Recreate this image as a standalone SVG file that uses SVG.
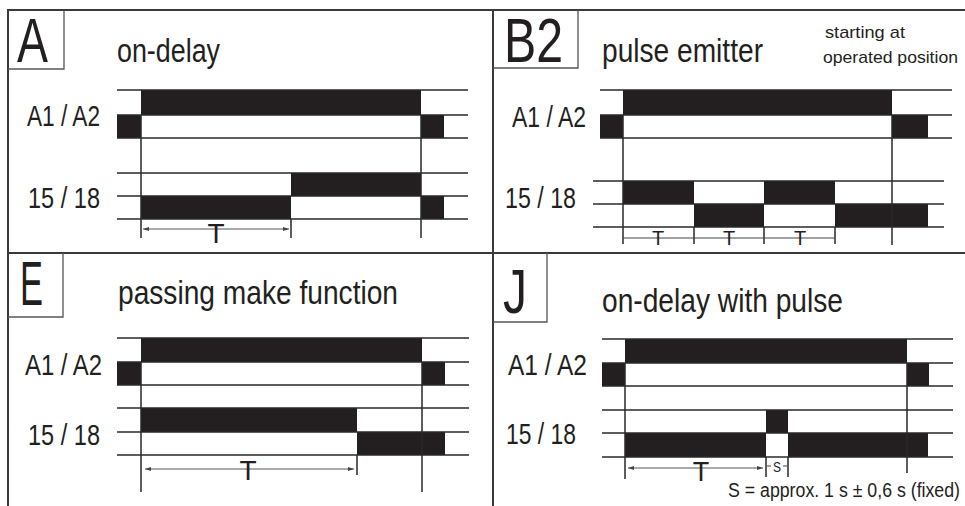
<svg xmlns="http://www.w3.org/2000/svg" width="965" height="506" viewBox="0 0 965 506">
<style>
.frame{stroke:#3a3a3a;stroke-width:2;fill:none}
.box{stroke:#555;stroke-width:1.3;fill:none}
.sig{stroke:#2a2a2a;stroke-width:1.4}
.bar{fill:#231f20}
.vl{stroke:#2a2a2a;stroke-width:1.5}
.dim{stroke:#555;stroke-width:1;marker-start:url(#arr);marker-end:url(#arr)}
.dl{stroke:#444;stroke-width:1.2}
text{font-family:"Liberation Sans","DejaVu Sans",sans-serif;fill:#231f20}
.big{font-size:63px}
.title{font-size:34px}
.lab{font-size:29px}
.T{font-size:28px;text-anchor:middle}
.Ts{font-size:20px;text-anchor:middle}
.note{font-size:17px}
</style>
<defs>
<marker id="arr" viewBox="0 0 6 4" refX="6" refY="2" markerWidth="6" markerHeight="4" markerUnits="userSpaceOnUse" orient="auto-start-reverse"><path d="M0,0 L6,2 L0,4 z" fill="#444"/></marker>
</defs>
<rect width="965" height="506" fill="#fff"/>
<g id="frame">
<path class="frame" d="M8,506 V10 H965 M493,10 V506 M8,253 H965"/>
</g>

<g id="panel-A">
<path class="box" d="M64,10 V69 H8"/>
<text class="big" x="17" y="62" textLength="31" lengthAdjust="spacingAndGlyphs">A</text>
<text class="title" x="117" y="62" textLength="103" lengthAdjust="spacingAndGlyphs">on-delay</text>
<text class="lab" x="27" y="126" textLength="73" lengthAdjust="spacingAndGlyphs">A1 / A2</text>
<text class="lab" x="28" y="208" textLength="72" lengthAdjust="spacingAndGlyphs">15 / 18</text>
<rect class="bar" x="141" y="90" width="280" height="25"/>
<rect class="bar" x="117" y="115" width="24" height="23"/>
<rect class="bar" x="421" y="115" width="23" height="23"/>
<rect class="bar" x="141" y="196" width="150" height="23"/>
<rect class="bar" x="291" y="173" width="130" height="23"/>
<rect class="bar" x="421" y="196" width="23" height="23"/>
<path class="sig" d="M117,90 H468 M117,115 H468 M117,138 H468 M117,173 H468 M117,196 H468 M117,219 H468"/>
<path class="vl" d="M141,115 V238 M421,115 V238 M291,219 V238"/>
<line class="dim" x1="143" y1="229" x2="289" y2="229"/>
<text class="T" x="216" y="243">T</text>
</g>

<g id="panel-B2">
<path class="box" d="M578,10 V68 H493"/>
<text class="big" x="504" y="62" textLength="59" lengthAdjust="spacingAndGlyphs">B2</text>
<text class="title" x="602" y="62" textLength="161" lengthAdjust="spacingAndGlyphs">pulse emitter</text>
<text class="note" x="825" y="38" textLength="80" lengthAdjust="spacingAndGlyphs">starting at</text>
<text class="note" x="823" y="63" textLength="135" lengthAdjust="spacingAndGlyphs">operated position</text>
<text class="lab" x="512" y="127" textLength="74" lengthAdjust="spacingAndGlyphs">A1 / A2</text>
<text class="lab" x="505" y="208" textLength="71" lengthAdjust="spacingAndGlyphs">15 / 18</text>
<rect class="bar" x="623" y="90" width="269" height="25"/>
<rect class="bar" x="600" y="115" width="23" height="23"/>
<rect class="bar" x="892" y="115" width="36" height="23"/>
<rect class="bar" x="623" y="181" width="71" height="23"/>
<rect class="bar" x="694" y="204" width="70" height="23"/>
<rect class="bar" x="764" y="181" width="71" height="23"/>
<rect class="bar" x="835" y="204" width="93" height="23"/>
<path class="sig" d="M600,90 H952 M600,115 H952 M600,138 H952 M593,181 H944 M593,204 H944 M593,227 H944"/>
<path class="vl" d="M623,115 V244 M892,115 V245 M694,227 V244 M764,227 V244 M835,227 V244"/>
<path class="dl" d="M623,238 H835"/>
<text class="Ts" x="658" y="245">T</text>
<text class="Ts" x="729" y="245">T</text>
<text class="Ts" x="800" y="245">T</text>
</g>

<g id="panel-E">
<path class="box" d="M63,253 V317 H8"/>
<text class="big" x="20" y="305" textLength="23" lengthAdjust="spacingAndGlyphs">E</text>
<text class="title" x="118" y="304" textLength="280" lengthAdjust="spacingAndGlyphs">passing make function</text>
<text class="lab" x="25" y="375" textLength="77" lengthAdjust="spacingAndGlyphs">A1 / A2</text>
<text class="lab" x="28" y="445" textLength="72" lengthAdjust="spacingAndGlyphs">15 / 18</text>
<rect class="bar" x="141" y="338" width="281" height="24"/>
<rect class="bar" x="117" y="362" width="24" height="23"/>
<rect class="bar" x="422" y="362" width="23" height="23"/>
<rect class="bar" x="141" y="408" width="216" height="24"/>
<rect class="bar" x="357" y="432" width="88" height="23"/>
<path class="sig" d="M117,338 H469 M117,362 H469 M117,385 H469 M117,408 H469 M117,432 H469 M117,455 H469"/>
<path class="vl" d="M141,362 V492 M422,362 V492 M357,455 V475"/>
<line class="dim" x1="145" y1="469" x2="354" y2="469"/>
<text class="T" x="248" y="480">T</text>
</g>

<g id="panel-J">
<path class="box" d="M547,253 V322 H493"/>
<text class="big" x="503" y="313" textLength="24" lengthAdjust="spacingAndGlyphs">J</text>
<text class="title" x="602" y="312" textLength="241" lengthAdjust="spacingAndGlyphs">on-delay with pulse</text>
<text class="lab" x="508" y="375" textLength="79" lengthAdjust="spacingAndGlyphs">A1 / A2</text>
<text class="lab" x="506" y="444" textLength="70" lengthAdjust="spacingAndGlyphs">15 / 18</text>
<rect class="bar" x="625" y="339" width="282" height="24"/>
<rect class="bar" x="602" y="363" width="23" height="23"/>
<rect class="bar" x="907" y="363" width="22" height="23"/>
<rect class="bar" x="625" y="433" width="141" height="24"/>
<rect class="bar" x="766" y="410" width="22" height="23"/>
<rect class="bar" x="788" y="433" width="140" height="24"/>
<path class="sig" d="M602,339 H953 M602,363 H953 M602,386 H953 M602,410 H953 M602,433 H953 M602,457 H953"/>
<path class="vl" d="M625,363 V479 M907,363 V473 M766,457 V477 M788,457 V477"/>
<line class="dim" x1="628" y1="468" x2="763" y2="468"/>
<text class="T" x="701" y="481" style="font-size:27px">T</text>
<path class="dl" d="M767,466 H771 M783,466 H787"/>
<text x="777" y="472" style="font-size:14px;text-anchor:middle" textLength="8" lengthAdjust="spacingAndGlyphs">S</text>
<text x="728" y="497" style="font-size:20px" textLength="232" lengthAdjust="spacingAndGlyphs">S = approx. 1 s ± 0,6 s (fixed)</text>
</g>
</svg>
